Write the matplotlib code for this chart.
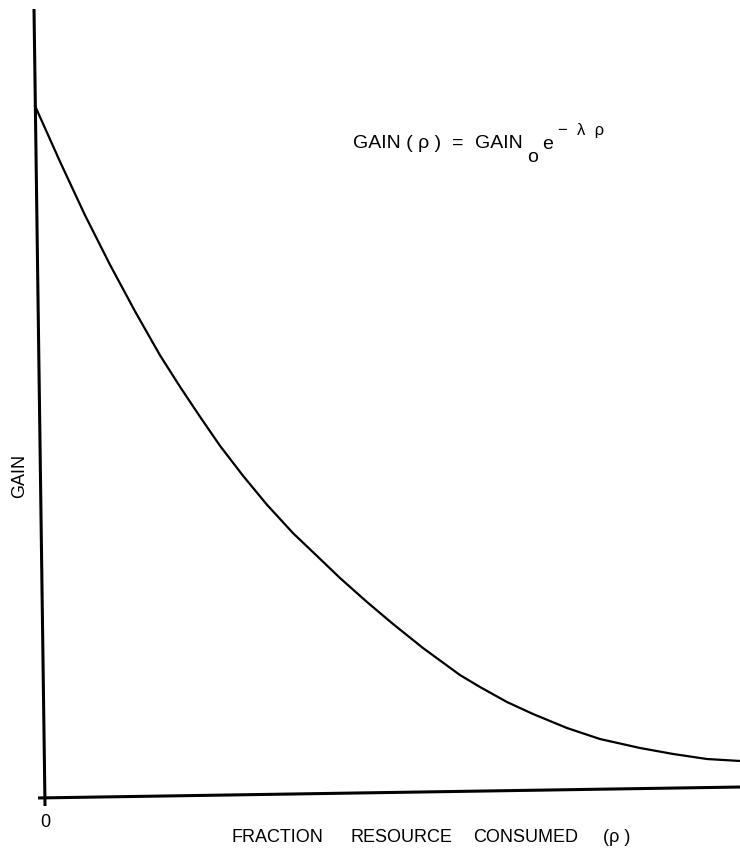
import numpy as np
import matplotlib
matplotlib.use("Agg")
from matplotlib import pyplot as plt

plt.rcParams['font.family'] = ['Liberation Sans', 'DejaVu Sans']

# fraction of resource consumed vs gain
rho = [0.0, 0.0355, 0.0709, 0.1064, 0.1418, 0.1773, 0.2057, 0.2340, 0.2624,
       0.2950, 0.3291, 0.3660, 0.4000, 0.4326, 0.4709, 0.5078, 0.5504,
       0.6028, 0.6312, 0.6695, 0.7064, 0.7546, 0.8014, 0.8582, 0.9050,
       0.9532, 1.0]
gain = [0.877, 0.806, 0.738, 0.675, 0.616, 0.560, 0.520, 0.482, 0.445,
        0.407, 0.370, 0.334, 0.305, 0.277, 0.2465, 0.2186, 0.188,
        0.1537, 0.1385, 0.1194, 0.1042, 0.0864, 0.0724, 0.0610, 0.0534,
        0.0470, 0.0445]

xlabel_words = ['FRACTION', 'RESOURCE', 'CONSUMED', '(ρ )']
xlabel_pos = [0.279, 0.447, 0.621, 0.806]

fig = plt.figure(figsize=(7.4, 8.54), dpi=100)
ax = fig.add_axes([35/740, 57/854, 705/740, 787/854])
ax.set_xlim(0, 1)
ax.set_ylim(0, 1)
ax.axis('off')

# axes drawn by hand, slightly skewed like the original drawing
ax.plot([-0.0014, 0.0142], [1.0, -0.0127], color='black', lw=2.2,
        transform=ax.transAxes, clip_on=False, solid_capstyle='butt')
ax.plot([0.0043, 1.0], [-0.0025, 0.0114], color='black', lw=2.2,
        transform=ax.transAxes, clip_on=False, solid_capstyle='butt')

ax.plot(rho, gain, color='black', lw=1.6, clip_on=False,
        solid_joinstyle='round')

# equation
fs = 14
ax.text(0.451, 0.825, 'GAIN ( ρ )', fontsize=fs, ha='left', va='baseline')
ax.text(0.592, 0.825, '=', fontsize=fs, ha='left', va='baseline')
ax.text(0.624, 0.825, 'GAIN', fontsize=fs, ha='left', va='baseline')
ax.text(0.698, 0.807, 'o', fontsize=fs, ha='left', va='baseline')
ax.text(0.720, 0.824, 'e', fontsize=fs, ha='left', va='baseline')
ax.text(0.742, 0.841, '−  λ  ρ', fontsize=12, ha='left', va='baseline')

# labels
ax.text(-0.0213, 0.408, 'GAIN', fontsize=13, rotation=90,
        ha='center', va='center')
ax.text(0.014, -0.032, '0', fontsize=13, ha='center', va='center')
for w, xp in zip(xlabel_words, xlabel_pos):
    ax.text(xp, -0.0572, w, fontsize=13, ha='left', va='baseline')

fig.savefig('out.png', dpi=100, facecolor='white')
